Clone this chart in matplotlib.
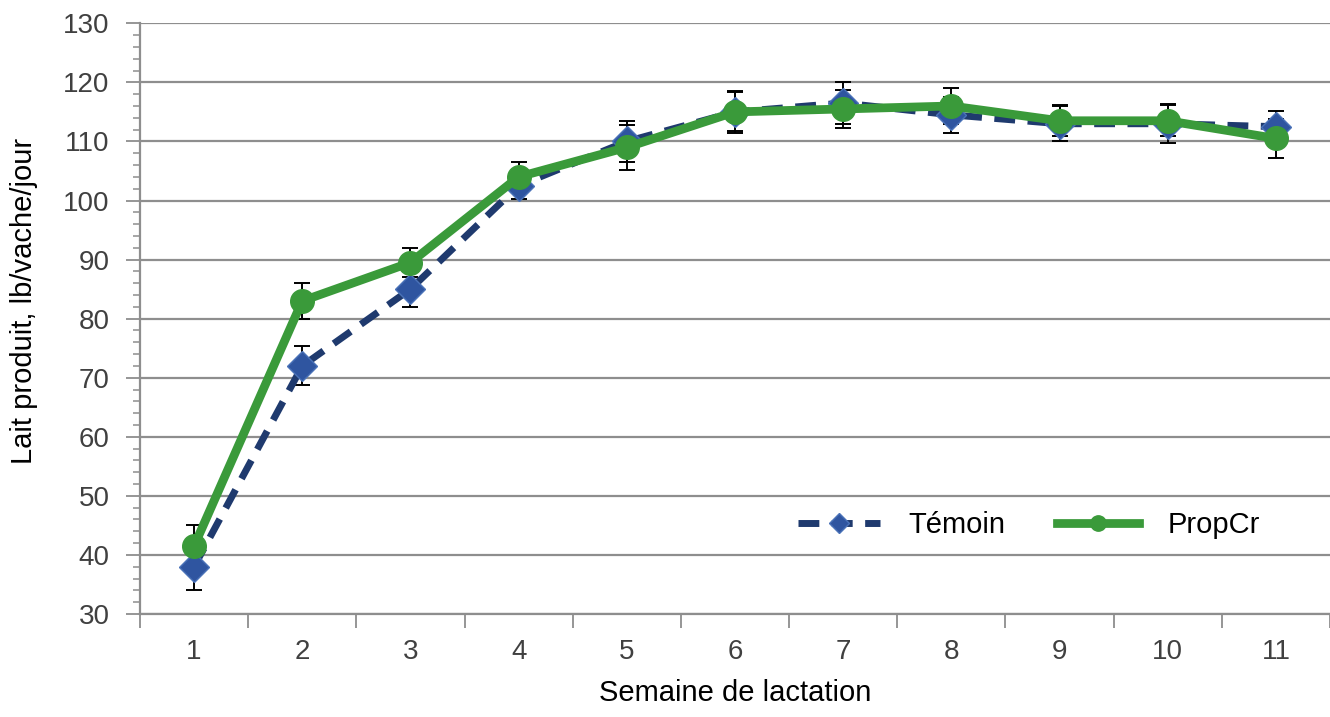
import numpy as np
import matplotlib
matplotlib.use("Agg")
import matplotlib.pyplot as plt
from matplotlib.ticker import FixedLocator, MultipleLocator, NullFormatter

plt.rcParams['font.family'] = ['Liberation Sans', 'DejaVu Sans']

# weeks of lactation
semaines = [1, 2, 3, 4, 5, 6, 7, 8, 9, 10, 11]
tick_labels = [str(s) for s in semaines]

# milk produced, lb/cow/day
temoin = [38, 72, 85, 102.5, 110, 115, 116.5, 114.5, 113, 113, 112.5]
temoin_err = [4, 3.3, 3, 2.3, 3.5, 3.5, 3.5, 3, 3, 3.3, 2.6]
propcr = [41.5, 83, 89.5, 104, 109, 115, 115.5, 116, 113.5, 113.5, 110.5]
propcr_err = [3.5, 3, 2.5, 2.5, 3.8, 3.3, 3.2, 3.1, 2.6, 2.6, 3.3]

grid_col = '#8e8e8e'
blue_line = '#1f3a6e'
blue_mark = '#2f55a0'
green = '#3a9a3a'

fig = plt.figure(figsize=(13.3, 7.17), dpi=100)
ax = fig.add_axes([140/1330, 1 - 614/717, 1190/1330, (614 - 23.3)/717])

# error bars first, then lines on top
ax.errorbar(semaines, temoin, yerr=temoin_err, fmt='none', ecolor='black',
            elinewidth=1.4, capsize=5.8, capthick=1.4, zorder=3)
ax.errorbar(semaines, propcr, yerr=propcr_err, fmt='none', ecolor='black',
            elinewidth=1.4, capsize=5.8, capthick=1.4, zorder=3)

l1, = ax.plot(semaines, temoin, color=blue_line, lw=5, dashes=(3, 1.8),
              marker='D', markersize=15, markerfacecolor=blue_mark,
              markeredgecolor='#4a72b8', markeredgewidth=1, label='Témoin',
              zorder=4)
l2, = ax.plot(semaines, propcr, color=green, lw=6.3, marker='o',
              markersize=17, markerfacecolor=green, markeredgecolor=green,
              label='PropCr', zorder=5)

ax.set_xlim(0.5, 11.5)
ax.set_ylim(30, 130)

# y axis: majors every 10, minors every 2, ticks outward
ax.yaxis.set_major_locator(MultipleLocator(10))
ax.yaxis.set_minor_locator(MultipleLocator(2))
ax.tick_params(axis='y', which='major', length=10, width=1.3, color=grid_col,
               labelsize=20, labelcolor='#404040', pad=12)
ax.tick_params(axis='y', which='minor', length=5, width=1.1, color=grid_col)

# x axis: tick marks between categories, labels at categories
ax.xaxis.set_major_locator(FixedLocator(np.arange(0.5, 12, 1)))
ax.xaxis.set_major_formatter(NullFormatter())
ax.xaxis.set_minor_locator(FixedLocator(semaines))
ax.set_xticklabels(tick_labels, minor=True)
ax.tick_params(axis='x', which='major', length=10, width=1.3, color=grid_col)
ax.tick_params(axis='x', which='minor', length=0, labelsize=20,
               labelcolor='#404040', pad=18)

ax.grid(axis='y', which='major', color=grid_col, lw=1.6)
ax.set_axisbelow(True)

for side in ['top', 'right']:
    ax.spines[side].set_visible(False)
for side in ['left', 'bottom']:
    ax.spines[side].set_color(grid_col)
    ax.spines[side].set_linewidth(1.6)

ax.set_xlabel('Semaine de lactation', fontsize=21)
ax.xaxis.set_label_coords(0.5, -0.11)
ax.set_ylabel('Lait produit, lb/vache/jour', fontsize=21)
ax.yaxis.set_label_coords(-0.086, 0.53)

leg = ax.legend(handles=[l1, l2], ncol=2, frameon=False, fontsize=21,
                loc='center left', bbox_to_anchor=((798 - 140)/1190, (614 - 525)/590.7),
                handlelength=2.8, handletextpad=1.0, columnspacing=1.75,
                numpoints=1, markerscale=0.65, borderaxespad=0, borderpad=0)

fig.savefig('out.png', dpi=100)
